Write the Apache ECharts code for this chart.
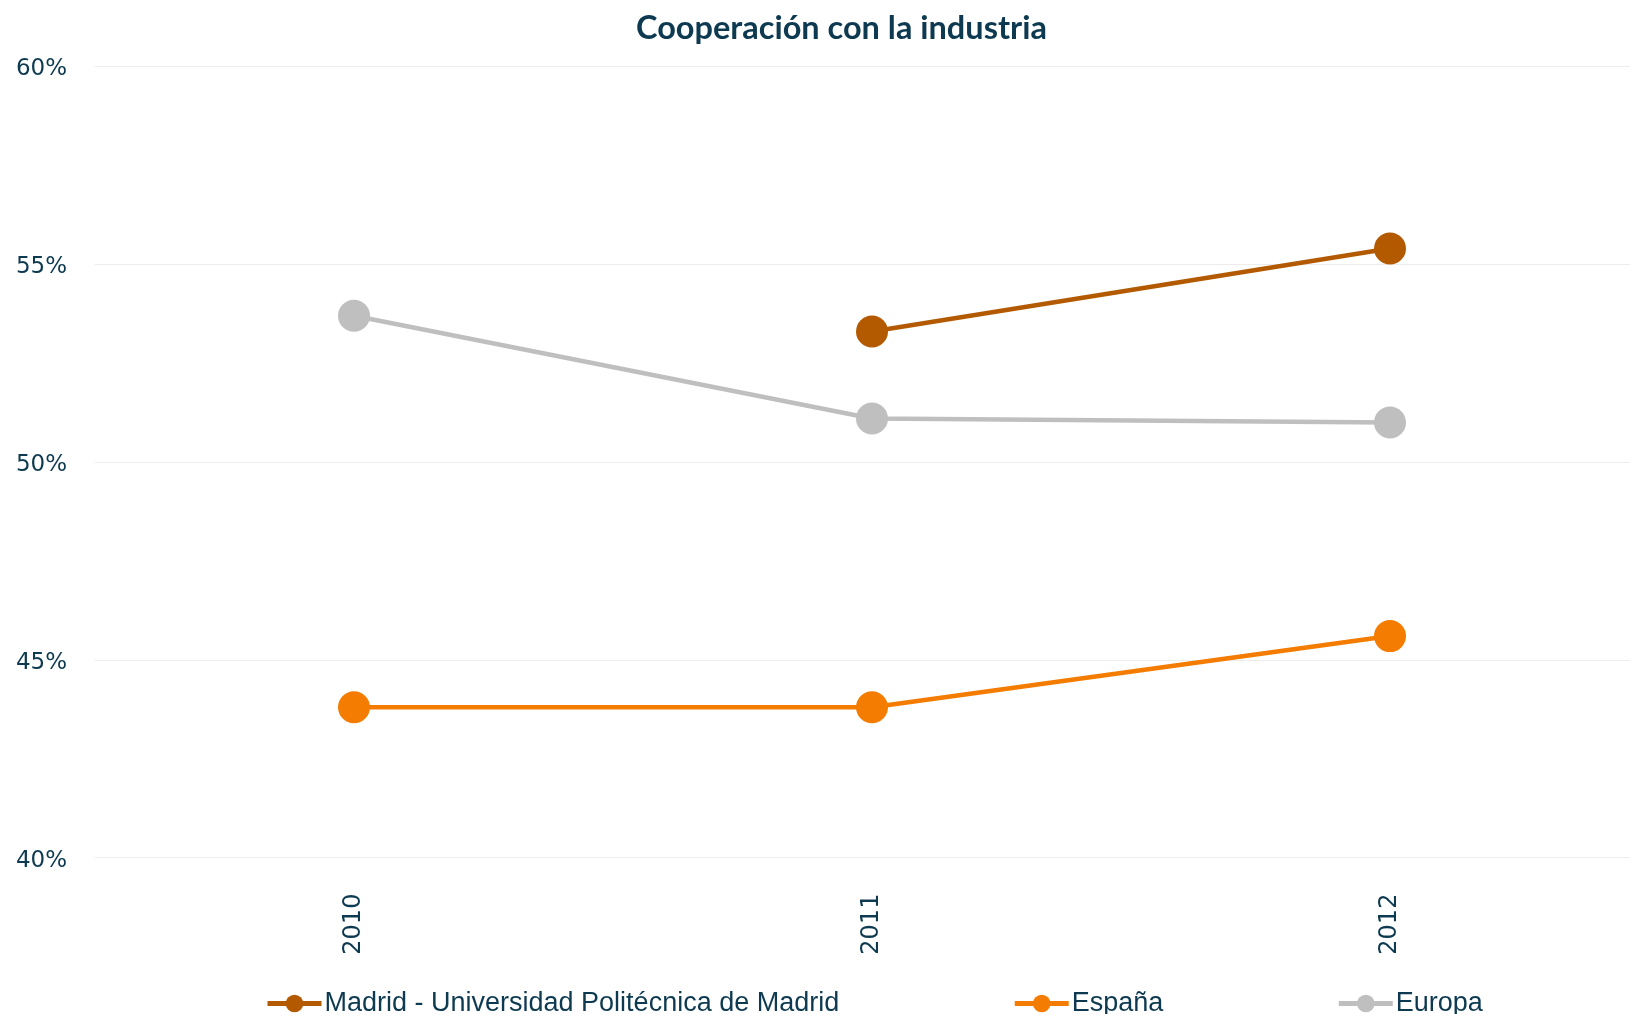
<!DOCTYPE html>
<html>
<head>
<meta charset="utf-8">
<script src="https://cdn.jsdelivr.net/npm/echarts@6/dist/echarts.min.js"></script>
<style>html,body{margin:0;padding:0;background:#fff}#c{width:1630px;height:1014px}</style>
</head>
<body>
<div id="c"></div>
<script>
var title = 'Cooperación con la industria';
var years = ['2010', '2011', '2012'];
var madrid = [null, 53.3, 55.4];
var espana = [43.8, 43.8, 45.6];
var europa = [53.7, 51.1, 51.0];
var seriesNames = ['Madrid - Universidad Politécnica de Madrid', 'España', 'Europa'];

var textColor = '#0D3A50';
var chart = echarts.init(document.getElementById('c'));
function mk(name, data, color) {
  return {
    name: name, type: 'line', data: data,
    symbol: 'circle', symbolSize: 32,
    lineStyle: {color: color, width: 4.5},
    itemStyle: {color: color},
    connectNulls: false, animation: false
  };
}
chart.setOption({
  animation: false,
  backgroundColor: '#ffffff',
  title: {
    text: title, left: 631, top: 7,
    textStyle: {fontFamily: 'Lato', fontWeight: 'bold', fontSize: 32.5, color: textColor}
  },
  legend: {
    left: 260, top: 985, itemGap: 173, itemWidth: 54, itemHeight: 22,
    lineStyle: {width: 5},
    textStyle: {fontFamily: 'Liberation Sans', fontSize: 27, color: textColor, padding: [0,0,0,-2]},
    data: seriesNames
  },
  grid: {left: 95, top: 66.5, width: 1554, bottom: 156.4, containLabel: false, outerBoundsMode: 'none'},
  xAxis: {
    type: 'category', data: years, boundaryGap: true,
    axisLine: {show: false}, axisTick: {show: false},
    axisLabel: {rotate: 90, margin: 36, fontFamily: 'DejaVu Sans', fontSize: 24, color: textColor}
  },
  yAxis: {
    type: 'value', min: 40, max: 60, interval: 5,
    axisLine: {show: false}, axisTick: {show: false},
    axisLabel: {
      formatter: function (v) { return '{a|' + v + '%}'; }, margin: 28,
      rich: {a: {fontFamily: 'DejaVu Sans', fontSize: 23, color: textColor, padding: [6, 0, 0, 0]}}
    },
    splitLine: {lineStyle: {color: '#EDEDED', width: 1}}
  },
  series: [
    mk(seriesNames[0], madrid, '#B35A00'),
    mk(seriesNames[1], espana, '#F47C00'),
    mk(seriesNames[2], europa, '#BFBFBF')
  ]
});
</script>
</body>
</html>
